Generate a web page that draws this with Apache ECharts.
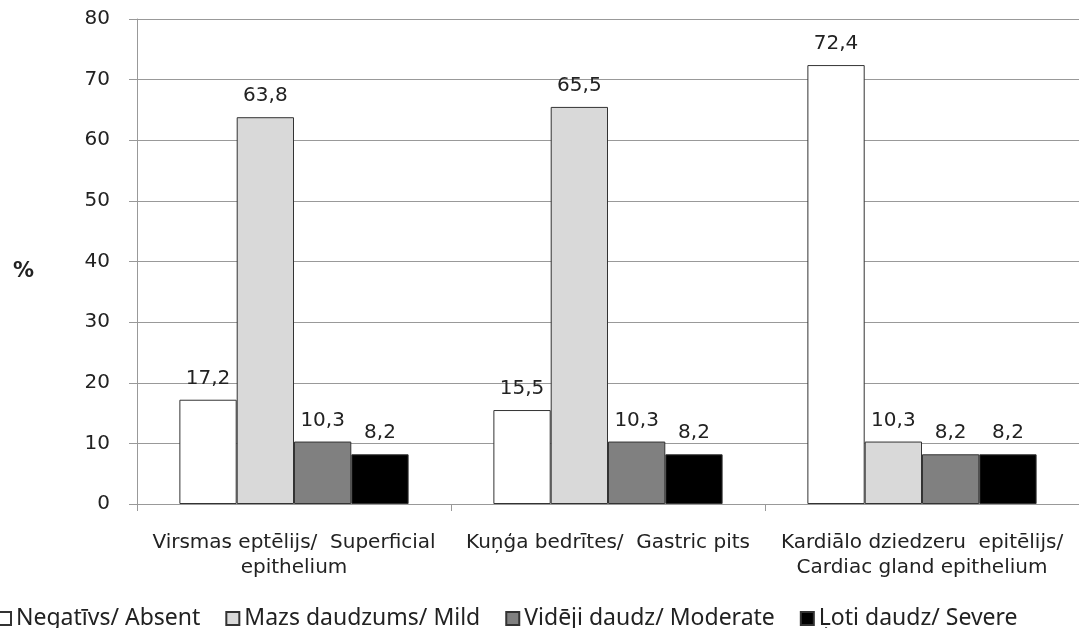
<!DOCTYPE html>
<html>
<head>
<meta charset="utf-8">
<script src="https://cdn.jsdelivr.net/npm/echarts@6/dist/echarts.min.js"></script>
<style>
  html, body { margin: 0; padding: 0; background: #fff; }
  #chart { width: 1079px; height: 628px; }
</style>
</head>
<body>
<div id="chart"></div>
<script>
const categories = [
  'Virsmas eptēlijs/  Superficial\nepithelium',
  'Kuņģa bedrītes/  Gastric pits',
  'Kardiālo dziedzeru  epitēlijs/\nCardiac gland epithelium'
]
const seriesNames = ['Negatīvs/ Absent', 'Mazs daudzums/ Mild', 'Vidēji daudz/ Moderate', 'Ļoti daudz/ Severe']
const absent = [17.2, 15.5, 72.4]
const mild = [63.8, 65.5, 10.3]
const moderate = [10.3, 10.3, 8.2]
const severe = [8.2, 8.2, 8.2]
const yTicks = { min: 0, max: 80, interval: 10 }

const fill = ['#ffffff', '#d9d9d9', '#808080', '#000000']
const values = [absent, mild, moderate, severe]
const wide = 'DejaVu Sans'
const narrow = 'Noto Sans'

const chart = echarts.init(document.getElementById('chart'))

const option = {
  animation: false,
  textStyle: { fontFamily: wide },
  grid: { left: 137, right: -4, top: 19, bottom: 124 },
  legend: {
    left: -8,
    top: 602,
    itemWidth: 13,
    itemHeight: 13,
    itemGap: 25,
    icon: 'rect',
    textStyle: { fontSize: 23, color: '#222', fontFamily: narrow },
    data: seriesNames
  },
  xAxis: {
    type: 'category',
    data: categories,
    axisLine: { lineStyle: { color: '#999' } },
    axisTick: { show: true, length: 7, interval: 0, lineStyle: { color: '#999' } },
    axisLabel: { interval: 0, fontSize: 20, color: '#222', lineHeight: 25, margin: 26 }
  },
  yAxis: {
    type: 'value',
    min: yTicks.min,
    max: yTicks.max,
    interval: yTicks.interval,
    name: '%',
    nameLocation: 'middle',
    nameRotate: 0,
    nameGap: 103,
    nameTextStyle: { fontSize: 21, color: '#222', fontWeight: 'bold', verticalAlign: 'top' },
    axisLine: { show: true, lineStyle: { color: '#999' } },
    axisTick: { show: true, length: 8, lineStyle: { color: '#999' } },
    axisLabel: { fontSize: 20, color: '#222', margin: 27 },
    splitLine: { lineStyle: { color: '#999' } }
  },
  series: seriesNames.map((name, i) => ({
    name: name,
    type: 'bar',
    data: values[i],
    barGap: '0%',
    barCategoryGap: '27%',
    itemStyle: { color: fill[i], borderColor: '#333', borderWidth: 1 },
    label: {
      show: true,
      position: 'top',
      distance: 11,
      fontSize: 20,
      color: '#222',
      formatter: p => String(p.value).replace('.', ',')
    }
  }))
}

chart.setOption(option)
</script>
</body>
</html>
